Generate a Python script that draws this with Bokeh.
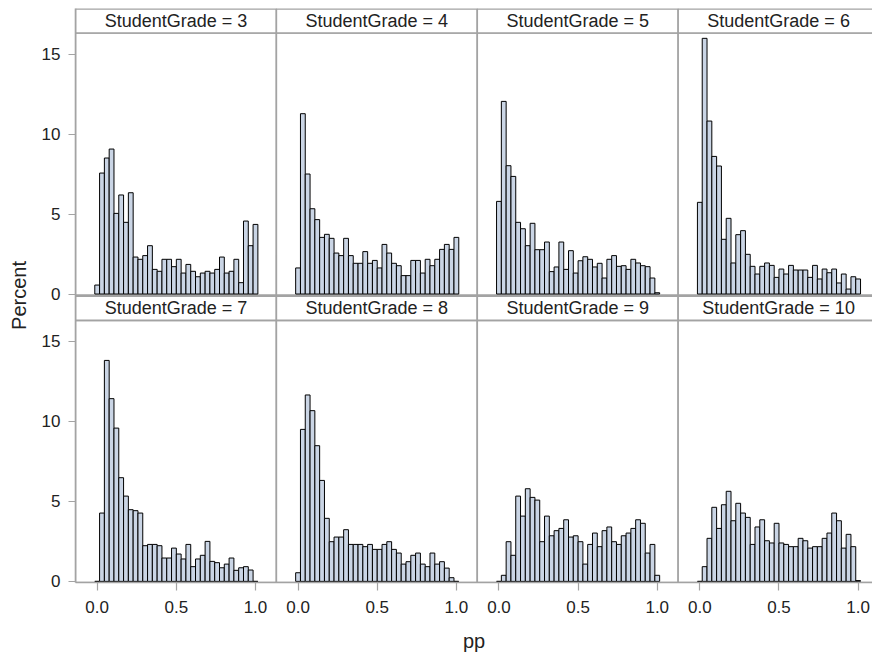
from bokeh.plotting import figure
from bokeh.models import ColumnDataSource, Range1d, FixedTicker, CustomJSTickFormatter
from bokeh.transform import dodge
from bokeh.core.properties import value
from bokeh.embed import file_html
from bokeh.resources import INLINE

# Histogram of pp by StudentGrade: percent of students per bin (34 bins of width 1/33)
grades = [3, 4, 5, 6, 7, 8, 9, 10]
n_bins = 34
bin_width = 1 / 33

pct_g3 = [0.56, 7.56, 8.5, 9.06, 5.04, 6.19, 4.48, 6.33, 2.31, 2.17, 2.40, 3.02, 1.54, 1.42,
          2.17, 2.17, 1.71, 2.17, 1.31, 1.85, 1.42, 1.08, 1.31, 1.42, 1.31, 1.54, 2.31, 1.31,
          1.42, 2.17, 0.71, 4.56, 3.02, 4.35]
pct_g4 = [1.63, 11.27, 7.5, 5.33, 4.65, 3.54, 3.73, 3.48, 2.56, 2.40, 3.48, 2.40, 1.92, 1.92,
          2.65, 1.92, 2.10, 1.63, 3.10, 2.56, 1.92, 1.77, 1.15, 1.15, 2.10, 2.10, 1.31, 2.17,
          1.77, 2.17, 2.79, 3.10, 2.79, 3.54]
pct_g5 = [5.79, 12.04, 8.02, 7.35, 4.48, 4.08, 3.02, 4.42, 2.77, 2.77, 3.25, 1.40, 1.69, 3.25,
          1.54, 2.71, 1.31, 2.08, 2.33, 2.17, 1.69, 1.92, 1.0, 2.17, 2.40, 1.73, 1.77, 1.54,
          2.17, 1.94, 1.77, 1.71, 1.0, 0.08]
pct_g6 = [5.73, 15.98, 10.81, 8.6, 8.0, 3.42, 4.73, 1.94, 3.71, 3.96, 2.48, 1.73, 1.25, 1.73,
          1.94, 1.79, 1.04, 1.56, 1.25, 1.79, 1.5, 1.5, 1.5, 1.04, 1.79, 0.94, 1.56, 1.33,
          1.56, 0.69, 1.25, 0.31, 1.08, 0.94]
pct_g7 = [0.0, 4.27, 13.81, 11.42, 9.58, 6.48, 5.33, 4.48, 4.42, 4.27, 2.23, 2.31, 2.31, 2.23,
          1.46, 1.46, 2.08, 1.71, 1.40, 2.31, 0.92, 1.40, 1.63, 2.5, 1.25, 1.17, 0.85, 1.08,
          1.46, 0.69, 0.85, 0.92, 0.71, 0.0]
pct_g8 = [0.54, 9.5, 11.65, 10.67, 8.48, 6.31, 3.94, 2.48, 2.77, 2.77, 3.23, 2.31, 2.31, 2.31,
          2.17, 2.31, 2.0, 2.0, 2.31, 2.48, 2.0, 1.77, 1.08, 1.23, 1.63, 1.77, 1.08, 0.92,
          1.77, 1.08, 1.23, 0.83, 0.23, 0.0]
pct_g9 = [0.0, 0.38, 2.48, 1.63, 5.33, 4.08, 5.79, 5.25, 5.08, 2.48, 4.08, 2.85, 3.17, 3.31,
          3.85, 2.77, 2.85, 2.48, 1.08, 2.31, 3.02, 2.17, 3.17, 3.40, 2.48, 2.31, 2.85, 3.02,
          3.31, 3.85, 3.63, 1.77, 2.31, 0.38]
pct_g10 = [0.0, 0.92, 2.69, 4.63, 3.31, 4.79, 5.63, 3.79, 4.88, 4.27, 4.0, 2.31, 3.40, 3.85,
           2.54, 2.40, 3.63, 2.40, 2.31, 2.17, 2.17, 2.69, 2.54, 2.08, 2.17, 2.17, 2.69, 3.02,
           4.27, 3.79, 2.08, 2.94, 2.17, 0.05]
pct_by_grade = [pct_g3, pct_g4, pct_g5, pct_g6, pct_g7, pct_g8, pct_g9, pct_g10]

x_tick_values = [0.0, 0.5, 1.0]
x_tick_labels = ["0.0", "0.5", "1.0"]
y_tick_values = [0, 5, 10, 15]
y_tick_labels = ["0", "5", "10", "15"]

# Facet layout in shared data space: each cell is shifted by a column/row step
N_COLS = 2 * 2
COL_STEP = 1.269          # x distance between neighbouring cells
ROW_STEP = 17.96          # y distance between the two rows
CELL_LEFT = -0.137        # cell left edge relative to pp = 0
CELL_BOTTOM = -0.07       # cell bottom edge relative to Percent = 0
CELL_TOP = 16.31          # cell top edge (below the header strip)
HEADER_TOP = 17.82        # top of the header strip

FONT = "Liberation Sans"
BAR_FILL = "#CAD5E5"
FRAME_GRAY = "#A3A3A3"
TEXT_COLOR = "#222222"

p = figure(width=872, height=655,
           x_range=Range1d(-0.137, -0.137 + 797 / 158.3),
           y_range=Range1d(-0.07, -0.07 + 574 / 16),
           output_backend="svg", toolbar_location=None,
           min_border_left=75, min_border_right=0, min_border_top=8, min_border_bottom=73)
p.outline_line_color = None
p.grid.visible = False
p.background_fill_color = "white"

centers = [k * bin_width for k in range(n_bins)]

cell_l, cell_r, cell_b, cell_t = [], [], [], []
head_b, head_t, head_x, head_y, head_txt = [], [], [], [], []
for i, g in enumerate(grades):
    col, row = i % N_COLS, i // N_COLS
    ox = col * COL_STEP
    oy = (1 - row) * ROW_STEP
    cell_l.append(ox + CELL_LEFT)
    cell_r.append(ox + CELL_LEFT + COL_STEP)
    cell_b.append(oy + CELL_BOTTOM)
    cell_t.append(oy + CELL_TOP)
    head_b.append(oy + CELL_TOP)
    head_t.append(oy + HEADER_TOP)
    head_x.append(ox + CELL_LEFT + COL_STEP / 2)
    head_y.append(oy + (CELL_TOP + HEADER_TOP) / 2)
    head_txt.append(f"StudentGrade = {g}")

# cell frames and header strips
p.quad(left=cell_l, right=cell_r, bottom=cell_b, top=cell_t,
       fill_color="white", line_color=FRAME_GRAY, line_width=1.6)
p.quad(left=cell_l, right=cell_r, bottom=head_b, top=head_t,
       fill_color="white", line_color=FRAME_GRAY, line_width=1.6)
p.text(x=head_x, y=head_y, text=head_txt, text_font=value(FONT), text_font_size="18px",
       text_color=TEXT_COLOR, text_align="center", text_baseline="middle")

# histogram bars, one source per grade
for i, g in enumerate(grades):
    col, row = i % N_COLS, i // N_COLS
    ox = col * COL_STEP
    oy = (1 - row) * ROW_STEP
    src = ColumnDataSource(dict(x=centers, pct=pct_by_grade[i]))
    p.vbar(x=dodge("x", ox), width=bin_width, bottom=oy, top=dodge("pct", oy), source=src,
           fill_color=BAR_FILL, line_color="black", line_width=1)

# axes: repeat the tick sets for every column / row
x_pos = [c * COL_STEP + v for c in range(N_COLS) for v in x_tick_values]
x_lab = [t for c in range(N_COLS) for t in x_tick_labels]
y_pos = [r * ROW_STEP + v for r in range(2) for v in y_tick_values]
y_lab = [t for r in range(2) for t in y_tick_labels]

pick_code = """
let best = 0, d = Infinity;
for (let i = 0; i < pos.length; i++) {
  const e = Math.abs(pos[i] - tick);
  if (e < d) { d = e; best = i; }
}
return lab[best];
"""

for ax, pos, lab in ((p.xaxis[0], x_pos, x_lab), (p.yaxis[0], y_pos, y_lab)):
    ax.ticker = FixedTicker(ticks=pos, minor_ticks=[])
    ax.formatter = CustomJSTickFormatter(args=dict(pos=pos, lab=lab), code=pick_code)
    ax.axis_line_color = FRAME_GRAY
    ax.axis_line_width = 1.6
    ax.major_tick_line_color = FRAME_GRAY
    ax.major_tick_line_width = 1.2
    ax.major_tick_in = 0
    ax.minor_tick_line_color = None
    ax.major_label_text_font = FONT
    ax.major_label_text_font_size = "17px"
    ax.major_label_text_color = TEXT_COLOR
    ax.axis_label_text_font = FONT
    ax.axis_label_text_font_size = "20px"
    ax.axis_label_text_font_style = "normal"
    ax.axis_label_text_color = TEXT_COLOR

p.xaxis.axis_label = "pp"
p.xaxis.major_tick_out = 8
p.xaxis.major_label_standoff = 10
p.xaxis.axis_label_standoff = 14
p.yaxis.axis_label = "Percent"
p.yaxis.major_tick_out = 7
p.yaxis.major_label_standoff = 8
p.yaxis.axis_label_standoff = 9
p.yaxis.major_label_orientation = "horizontal"

open("out.html", "w").write(file_html(p, INLINE))
